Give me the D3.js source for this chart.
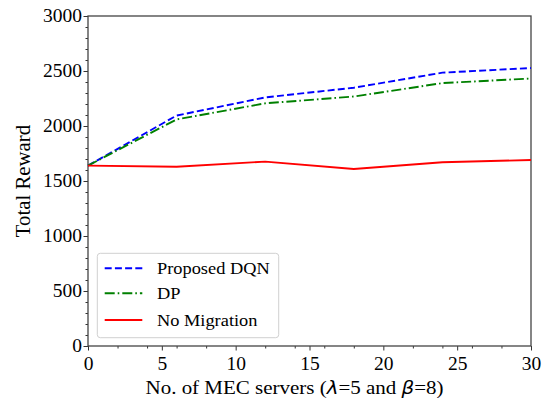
<!DOCTYPE html>
<html>
<head>
<meta charset="utf-8">
<script src="https://cdn.jsdelivr.net/npm/d3@7"></script>
<style>
  html, body { margin: 0; padding: 0; background: #fff; }
  svg { display: block; }
  text { font-family: "Liberation Serif", "Times New Roman", serif; fill: #000; }
</style>
</head>
<body>
<svg id="chart" width="557" height="406"></svg>
<script>
// ---- data ----
const servers = [0, 6, 12, 18, 24, 30];
const dqn = [1640, 2095, 2260, 2348, 2485, 2527];
const dp = [1640, 2060, 2206, 2268, 2390, 2432];
const noMigration = [1640, 1630, 1676, 1609, 1670, 1691];
const seriesNames = ["Proposed DQN", "DP", "No Migration"];
const xTicks = [0, 5, 10, 15, 20, 25, 30];
const yTicks = [0, 500, 1000, 1500, 2000, 2500, 3000];

// ---- layout ----
const W = 557, H = 406;
const m = { left: 88, top: 16, right: 26, bottom: 60 };
const pw = W - m.left - m.right, ph = H - m.top - m.bottom;

const svg = d3.select("#chart");
const g = svg.append("g").attr("transform", `translate(${m.left},${m.top})`);

const x = d3.scaleLinear().domain([0, 30]).range([0, pw]);
const y = d3.scaleLinear().domain([0, 3000]).range([ph, 0]);

// minor ticks
const xMinor = d3.range(0, 31, 2).filter(v => v % 5 !== 0);
const yMinor = d3.range(0, 3001, 100).filter(v => v % 500 !== 0);
g.append("g").attr("transform", `translate(0,${ph})`)
  .call(d3.axisBottom(x).tickValues(xMinor).tickSize(2.5).tickFormat(""))
  .call(s => s.select(".domain").remove())
  .call(s => s.selectAll("line").attr("stroke", "#333"));
g.append("g")
  .call(d3.axisLeft(y).tickValues(yMinor).tickSize(2.5).tickFormat(""))
  .call(s => s.select(".domain").remove())
  .call(s => s.selectAll("line").attr("stroke", "#333"));

// major axes
const TFS = 18, TSX = 1.083;
const xAxis = g.append("g").attr("transform", `translate(0,${ph})`)
  .call(d3.axisBottom(x).tickValues(xTicks).tickSize(4.5).tickPadding(6.5).tickFormat(d3.format("d")));
const yAxis = g.append("g")
  .call(d3.axisLeft(y).tickValues(yTicks).tickSize(4.5).tickPadding(1.0).tickFormat(d3.format("d")));
[xAxis, yAxis].forEach(a => {
  a.selectAll("text").attr("font-family", "Liberation Serif").attr("font-size", TFS)
    .attr("fill", "#000").attr("transform", `scale(${TSX},1)`);
  a.selectAll("line").attr("stroke", "#333");
  a.select(".domain").remove();
});

// frame
g.append("rect").attr("x", 0).attr("y", 0).attr("width", pw).attr("height", ph)
  .attr("fill", "none").attr("stroke", "#444").attr("stroke-width", 1.3);

// lines
const styles = [
  { data: dqn, color: "#0000ff", dash: "7,3.2" },
  { data: dp, color: "#008000", dash: "10,3,1.6,3" },
  { data: noMigration, color: "#ff0000", dash: null }
];
const line = d3.line().x((d, i) => x(servers[i])).y(d => y(d));
styles.forEach(s => {
  g.append("path").datum(s.data).attr("d", line)
    .attr("fill", "none").attr("stroke", s.color).attr("stroke-width", 1.9)
    .attr("stroke-dasharray", s.dash);
});

// legend
const LFS = 17, LSX = 1.08;
const lg = g.append("g").attr("transform", `translate(${97.3 - m.left},${253.3 - m.top})`);
lg.append("rect").attr("width", 181.4).attr("height", 84.4).attr("rx", 3).attr("ry", 3)
  .attr("fill", "#fff").attr("fill-opacity", 0.85).attr("stroke", "#d0d0d0").attr("stroke-width", 1);
const rowY = [15, 40, 66.7];
styles.forEach((s, i) => {
  lg.append("line").attr("x1", 7.4).attr("x2", 45).attr("y1", rowY[i]).attr("y2", rowY[i])
    .attr("stroke", s.color).attr("stroke-width", 1.9).attr("stroke-dasharray", s.dash);
  lg.append("text").attr("transform", `translate(59.7,${rowY[i] + 6}) scale(${LSX},1)`)
    .attr("font-size", LFS).text(seriesNames[i]);
});

// x label
const XFS = 18.5, XSX = 1.135;
const xl = svg.append("text").attr("transform", `translate(294.5,394) scale(${XSX},1)`)
  .attr("text-anchor", "middle").attr("font-size", XFS);
xl.append("tspan").text("No. of MEC servers (");
xl.append("tspan").attr("font-family", "DejaVu Sans").attr("font-style", "italic").attr("font-size", XFS - 1).text("λ");
xl.append("tspan").text("=5 and ");
xl.append("tspan").attr("font-family", "DejaVu Sans").attr("font-style", "italic").attr("font-size", XFS - 1).text("β");
xl.append("tspan").text("=8)");

// y label
svg.append("text").attr("transform", `translate(30,181) rotate(-90)`)
  .attr("text-anchor", "middle").attr("font-size", 20.8).text("Total Reward");
</script>
</body>
</html>
